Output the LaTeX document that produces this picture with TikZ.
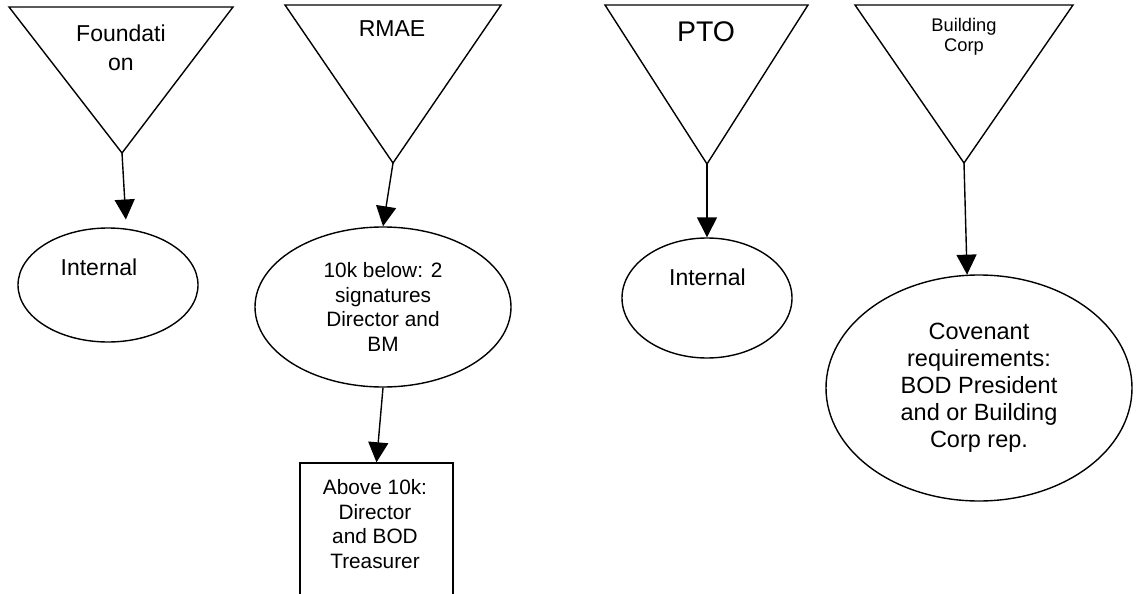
\documentclass[tikz,border=0pt]{standalone}
\usepackage{fontspec}
\setmainfont{Liberation Sans}
\usetikzlibrary{shapes.geometric,arrows.meta,calc}
\begin{document}
\begin{tikzpicture}[x=1pt,y=-1pt,
  shp/.style={draw=black,line width=1.4pt,line join=miter},
  oval/.style={shp,ellipse,inner sep=0pt},
  conn/.style={draw=black,line width=1.4pt,-{Triangle[length=20pt,width=20pt]}},
  txt/.style={align=center,inner sep=0pt},
  fbig/.style={font=\fontsize{23}{29}\selectfont},
  fpto/.style={font=\fontsize{28.4}{32}\selectfont},
  fsmall/.style={font=\fontsize{18.3}{20}\selectfont},
  fmid/.style={font=\fontsize{20.8}{24.5}\selectfont},
  fcov/.style={font=\fontsize{23.5}{27}\selectfont}]
\useasboundingbox (0,0) rectangle (1136,594);
\clip (0,0) rectangle (1136,594);
\fill[white] (0,0) rectangle (1136,594);

% apex coordinates of the funnels
\coordinate (a1) at (122,153);
\coordinate (a2) at (393,163);
\coordinate (a3) at (707,164);
\coordinate (a4) at (964,163);

% funnels
\draw[shp] (9,7) -- (233,7) -- (a1) -- cycle;
\draw[shp] (285,5) -- (501,5) -- (a2) -- cycle;
\draw[shp] (605,5) -- (808,5) -- (a3) -- cycle;
\draw[shp] (855,5) -- (1073,5) -- (a4) -- cycle;

\node[txt,fbig] (t1) at (121,47.5) {Foundati\\on};
\node[txt,fbig] (t2) at (392,29) {RMAE};
\node[txt,fpto] (t3) at (706,32) {PTO};
\node[txt,fsmall] (t4) at (964,37) {Building\\Corp};

% ellipses
\node[oval,minimum width=180pt,minimum height=114pt] (e1) at (108,285) {};
\node[txt,fbig] (e1t) at (99,267) {Internal};

\node[oval,minimum width=256pt,minimum height=160pt,align=center,fmid] (e2) at (383,307)
  {10k below: 2\\signatures\\Director and\\BM};

\node[oval,minimum width=170pt,minimum height=120pt] (e3) at (707,298) {};
\node[txt,fbig] (e3t) at (707.5,277) {Internal};

\node[oval,minimum width=306pt,minimum height=226pt,align=center,fcov] (e4) at (979,388)
  {Covenant\\requirements:\\BOD President\\and or Building\\Corp rep.};

% box (cut by the lower edge)
\node[shp,rectangle,minimum width=153pt,minimum height=200pt,inner sep=0pt] (b) at (376.5,563) {};
\node[txt,fmid] (bt) at (375,524) {Above 10k:\\Director\\and BOD\\Treasurer};

% connectors
\draw[conn,shorten >=9pt] (a1) -- (e1.72);
\draw[conn] (a2) -- (e2.north);
\draw[conn] (e2.south) -- (b.north);
\draw[conn] (a3) -- (e3.north);
\draw[conn] (a4) -- (e4.96);
\end{tikzpicture}
\end{document}
